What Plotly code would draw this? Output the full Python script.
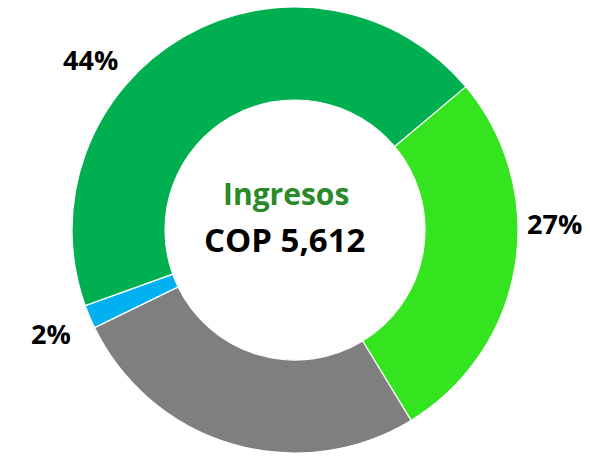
import plotly.graph_objects as go

# Data
categories = ["Segmento A", "Segmento B", "Segmento C", "Segmento D"]
shares = [27.4, 26.5, 1.7, 44.4]
label_text = ["27%", "", "2%", "44%"]
colors = ["#33E41F", "#7F7F7F", "#00B0F0", "#00B050"]
center_title = "Ingresos"
center_value = "COP 5,612"

W, H = 590, 456
cx, cy, R = 295, 230, 223

fig = go.Figure(go.Pie(
    labels=categories,
    values=shares,
    hole=130 / 223,
    sort=False,
    direction="clockwise",
    rotation=50,
    marker=dict(colors=colors, line=dict(color="white", width=1.2)),
    textinfo="none",
    hoverinfo="label+percent",
    showlegend=False,
    domain=dict(x=[(cx - R) / W, (cx + R) / W], y=[1 - (cy + R) / H, 1 - (cy - R) / H]),
))

label_pos = {"27%": (554, 223), "2%": (51, 333), "44%": (90, 59)}
font_lbl = dict(family="Open Sans", size=27, color="black")
anns = []
for t in label_text:
    if t:
        px, py = label_pos[t]
        anns.append(dict(x=px / W, y=1 - py / H, xref="paper", yref="paper",
                         text=f"<b>{t}</b>", showarrow=False, font=font_lbl,
                         xanchor="center", yanchor="middle"))
anns.append(dict(x=286 / W, y=1 - 193 / H, xref="paper", yref="paper",
                 text=f"<b>{center_title}</b>", showarrow=False,
                 font=dict(family="Open Sans", size=30, color="#2A8A2A"),
                 xanchor="center", yanchor="middle"))
anns.append(dict(x=284 / W, y=1 - 239 / H, xref="paper", yref="paper",
                 text=f"<b>{center_value}</b>", showarrow=False,
                 font=dict(family="Open Sans", size=33, color="black"),
                 xanchor="center", yanchor="middle"))

fig.update_layout(
    width=W, height=H,
    margin=dict(l=0, r=0, t=0, b=0),
    paper_bgcolor="white", plot_bgcolor="white",
    annotations=anns,
)

fig.write_html("out.html", config={"displayModeBar": False},
               post_script="document.body.style.margin='0';document.body.style.overflow='hidden';")
